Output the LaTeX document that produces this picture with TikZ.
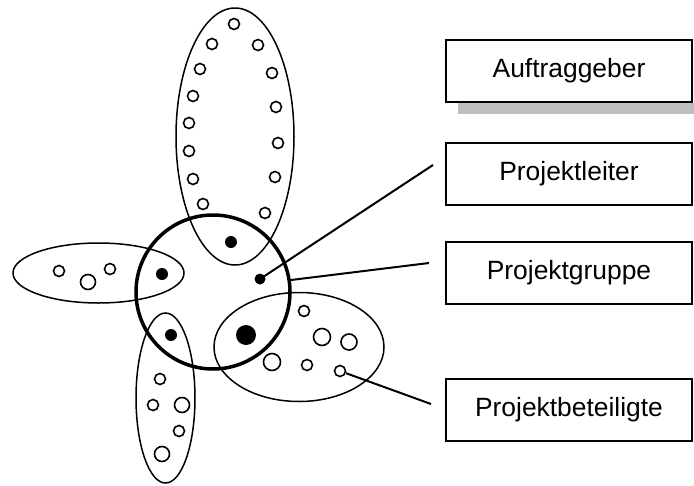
\documentclass[tikz,border=0pt]{standalone}
\usepackage{fontspec}
\setmainfont{Liberation Sans}
\begin{document}
\begin{tikzpicture}[x=1pt,y=-1pt,
  lbl/.style={draw,line width=2pt,minimum width=246pt,minimum height=62pt,inner sep=0pt,font=\fontsize{26.4}{30}\selectfont},
  grp/.style={line width=1.5pt},
  member/.style={circle,draw,line width=1.6pt,inner sep=0pt},
  lead/.style={circle,fill=black,inner sep=0pt,minimum size=12pt},
  conn/.style={line width=2pt}]
\useasboundingbox (0,0) rectangle (694,485);
% boxes
\node[lbl] (auf) at (569,71) {Auftraggeber};
\fill[black!25] ([xshift=13pt]auf.south west) rectangle ([xshift=4pt,yshift=-11pt]auf.south east);
\node[lbl] (pl) at (569,174) {Projektleiter};
\node[lbl] (pg) at (569,272.5) {Projektgruppe};
\node[lbl] (pb) at (569,410) {Projektbeteiligte};
% groups
\draw[grp] (235,136.5) ellipse [x radius=59, y radius=128.5];
\draw[grp] (98.5,273) ellipse [x radius=85.5, y radius=30];
\draw[grp] (165.5,398) ellipse [x radius=29.5, y radius=85];
\draw[grp] (299,347) ellipse [x radius=85, y radius=54.5];
\draw[line width=3.5pt] (213,292) circle [radius=77];
% leaders
\node[lead] (dtop) at (231,242) {};
\node[lead] (dleft) at (162,274) {};
\node[lead,minimum size=11pt] (dpl) at (260,279) {};
\node[lead] (dbot) at (171,335) {};
\node[lead,minimum size=20pt] (dbig) at (246,335) {};
% top members
\foreach \p in {(234,24),(212,44),(258,45),(200,69),(272,73),(193,96),(276,107),(189,123),(278,143),(189,151),(193,179),(275,177),(203,204),(265,213)}
  \node[member,minimum size=11pt] at \p {};
% left members
\node[member,minimum size=11pt] at (59,271) {};
\node[member,minimum size=15pt] at (88,282) {};
\node[member,minimum size=11pt] at (110,269) {};
% bottom members
\node[member,minimum size=11pt] at (160,379) {};
\node[member,minimum size=11pt] at (153,405) {};
\node[member,minimum size=15pt] at (182,405) {};
\node[member,minimum size=11pt] at (179,431) {};
\node[member,minimum size=15pt] at (162,454) {};
% right members
\node[member,minimum size=11pt] at (304,311) {};
\node[member,minimum size=17pt] at (322,337) {};
\node[member,minimum size=16pt] at (349,342) {};
\node[member,minimum size=17pt] at (272,362) {};
\node[member,minimum size=11pt] at (307,365) {};
\node[member,minimum size=11pt] (mpb) at (340,371) {};
% connectors
\coordinate (epl) at (433,165);
\coordinate (spg) at (291,280);
\coordinate (epg) at (429,263);
\coordinate (epb) at (431,404);
\draw[conn] (dpl.center) -- (epl);
\draw[conn] (spg) -- (epg);
\draw[conn] (mpb) -- (epb);
\end{tikzpicture}
\end{document}
